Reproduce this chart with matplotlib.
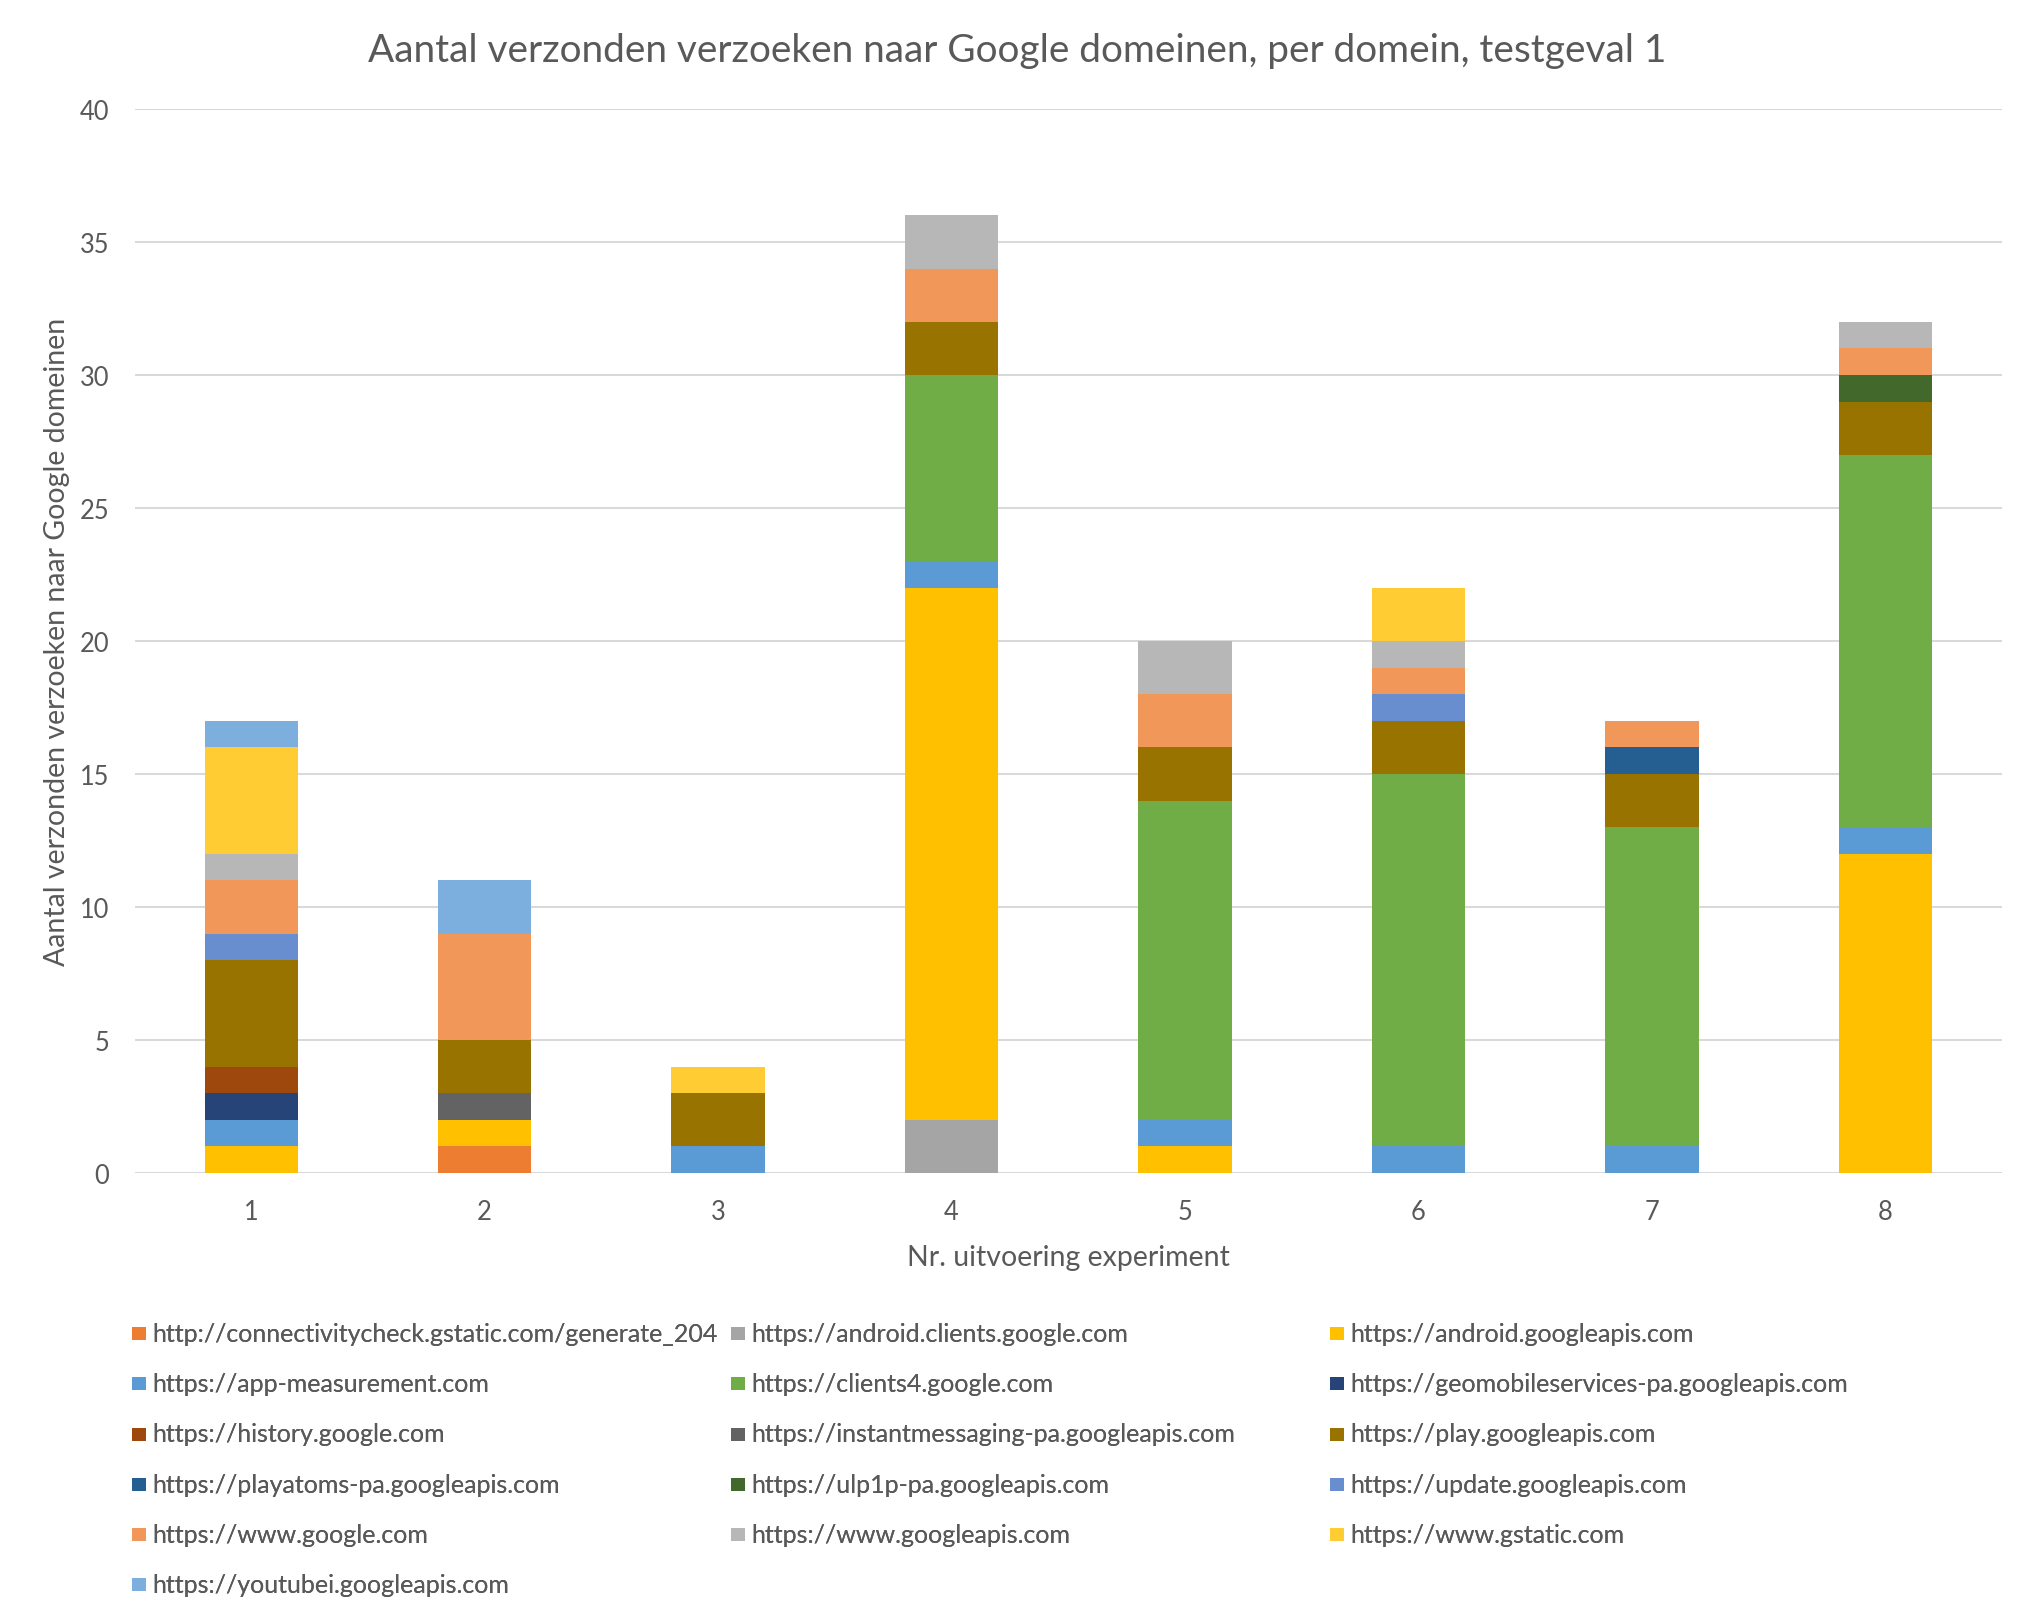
import matplotlib
matplotlib.use("Agg")
import matplotlib.pyplot as plt
from matplotlib.patches import Rectangle
from matplotlib.legend_handler import HandlerPatch
import numpy as np

plt.rcParams['font.family'] = ['Lato', 'DejaVu Sans']

# ---------------- data ----------------
experiments = ["1", "2", "3", "4", "5", "6", "7", "8"]

domains = [
    "http://connectivitycheck.gstatic.com/generate_204",
    "https://android.clients.google.com",
    "https://android.googleapis.com",
    "https://app-measurement.com",
    "https://clients4.google.com",
    "https://geomobileservices-pa.googleapis.com",
    "https://history.google.com",
    "https://instantmessaging-pa.googleapis.com",
    "https://play.googleapis.com",
    "https://playatoms-pa.googleapis.com",
    "https://ulp1p-pa.googleapis.com",
    "https://update.googleapis.com",
    "https://www.google.com",
    "https://www.googleapis.com",
    "https://www.gstatic.com",
    "https://youtubei.googleapis.com",
]

connectivitycheck = [0, 1, 0, 0, 0, 0, 0, 0]
android_clients = [0, 0, 0, 2, 0, 0, 0, 0]
android_googleapis = [1, 1, 0, 20, 1, 0, 0, 12]
app_measurement = [1, 0, 1, 1, 1, 1, 1, 1]
clients4 = [0, 0, 0, 7, 12, 14, 12, 14]
geomobileservices = [1, 0, 0, 0, 0, 0, 0, 0]
history = [1, 0, 0, 0, 0, 0, 0, 0]
instantmessaging = [0, 1, 0, 0, 0, 0, 0, 0]
play = [4, 2, 2, 2, 2, 2, 2, 2]
playatoms = [0, 0, 0, 0, 0, 0, 1, 0]
ulp1p = [0, 0, 0, 0, 0, 0, 0, 1]
update = [1, 0, 0, 0, 0, 1, 0, 0]
www_google = [2, 4, 0, 2, 2, 1, 1, 1]
www_googleapis = [1, 0, 0, 2, 2, 1, 0, 1]
www_gstatic = [4, 0, 1, 0, 0, 2, 0, 0]
youtubei = [1, 2, 0, 0, 0, 0, 0, 0]

series = [connectivitycheck, android_clients, android_googleapis, app_measurement,
          clients4, geomobileservices, history, instantmessaging, play, playatoms,
          ulp1p, update, www_google, www_googleapis, www_gstatic, youtubei]

colors = ["#ED7D31", "#A5A5A5", "#FFC000", "#5B9BD5", "#70AD47", "#264478",
          "#9E480E", "#636363", "#997300", "#255E91", "#43682B", "#698ED0",
          "#F1975A", "#B7B7B7", "#FFCD33", "#7CAFDD"]

title = "Aantal verzonden verzoeken naar Google domeinen, per domein, testgeval 1"
xlabel = "Nr. uitvoering experiment"
ylabel = "Aantal verzonden verzoeken naar Google domeinen"

TXT = "#595959"
GRID = "#D9D9D9"

# ---------------- figure ----------------
W, H = 2034, 1624
fig = plt.figure(figsize=(W / 100, H / 100), dpi=100)
ax_l, ax_r, ax_t, ax_b = 134.5, 2002, 110, 1174
ax = fig.add_axes([ax_l / W, 1 - ax_b / H, (ax_r - ax_l) / W, (ax_b - ax_t) / H])

x = np.arange(1, len(experiments) + 1)
bottom = np.zeros(len(experiments))
handles = []
for vals, col, name in zip(series, colors, domains):
    v = np.array(vals, dtype=float)
    b = ax.bar(x, v, width=0.4, bottom=bottom, color=col, label=name, linewidth=0, zorder=3)
    handles.append(b.patches[0])
    bottom += v

ax.set_xlim(0.5, len(experiments) + 0.5)
ax.set_ylim(0, 40)
ax.set_yticks(np.arange(0, 41, 5))
ax.set_xticks(x)
ax.set_xticklabels(experiments)
ax.grid(axis='y', color=GRID, linewidth=1.45, zorder=0)
ax.set_axisbelow(True)
for s in ax.spines.values():
    s.set_visible(False)
ax.tick_params(axis='both', length=0, labelsize=18.4, labelcolor=TXT)
ax.tick_params(axis='y', pad=18.4)
ax.tick_params(axis='x', pad=19.0)

ax.set_xlabel(xlabel, fontsize=20.5, color=TXT)
ax.xaxis.label.set_va('baseline')
ax.xaxis.set_label_coords(((ax_l + ax_r) / 2 - ax_l) / (ax_r - ax_l), (ax_b - 1266) / (ax_b - ax_t))
ax.set_ylabel(ylabel, fontsize=20.5, color=TXT, rotation_mode='anchor')
ax.yaxis.label.set_va('baseline')
ax.yaxis.set_label_coords((65 - ax_l) / (ax_r - ax_l), 0.5)

fig.text(0.5, 1 - 62 / H, title, ha='center', va='baseline', fontsize=27.9, color=TXT)

# ---------------- legend (3 columns, row-major order like Excel) ----------------
def square(legend, orig_handle, xdescent, ydescent, width, height, fontsize):
    return Rectangle((-xdescent, 0.04 * fontsize), 0.56 * fontsize, 0.52 * fontsize)

hmap = {Rectangle: HandlerPatch(patch_func=square)}
col_x = [132, 731, 1330]
legend_top = 1323
for c in range(3):
    idx = list(range(c, len(series), 3))
    leg = fig.legend([handles[i] for i in idx], [domains[i] for i in idx],
                     loc='upper left', bbox_to_anchor=(col_x[c] / W, 1 - legend_top / H),
                     frameon=False, fontsize=18, handlelength=0.56, handleheight=0.52,
                     handletextpad=0.24, labelspacing=1.09, borderpad=0, borderaxespad=0,
                     labelcolor=TXT, handler_map=hmap)
    fig.add_artist(leg)

fig.savefig("out.png", dpi=100)
